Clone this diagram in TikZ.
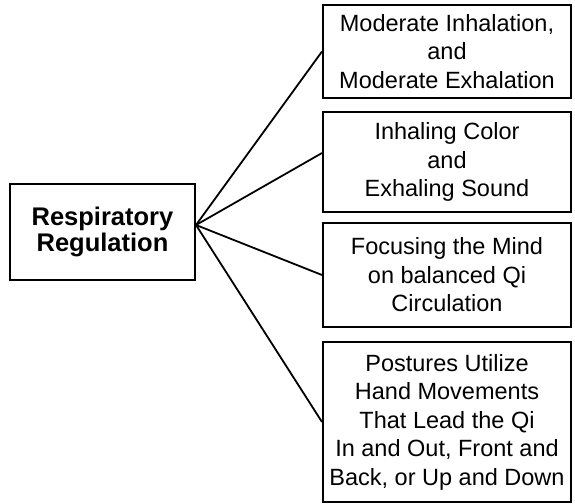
\documentclass[tikz,border=0pt]{standalone}
\usepackage{fontspec}
\setmainfont{Liberation Sans}
\usetikzlibrary{positioning, calc}

\tikzset{
  box/.style={draw, line width=2pt, rectangle, align=center, inner sep=2pt,
    minimum width=248pt, font=\fontsize{23.5}{28.5}\selectfont},
  link/.style={line width=1.8pt},
}

\begin{document}
\begin{tikzpicture}[x=1pt, y=-1pt]
\useasboundingbox (0,0) rectangle (575,503);

% Main topic
\node[box, minimum width=185pt, minimum height=96pt,
  font=\bfseries\fontsize{25.5}{26}\selectfont] (reg) at (102.5, 232) {Respiratory\\Regulation};
\coordinate (hub) at ($(reg.east)+(0,-7)$);

% Sub topics
\foreach \i/\y/\h/\txt in {
  1/51.5/93/{Moderate Inhalation,\\and\\Moderate Exhalation},
  2/162/100/{Inhaling Color\\and\\Exhaling Sound},
  3/275/104/{Focusing the Mind\\on balanced Qi\\Circulation},
  4/422/160/{Postures Utilize\\Hand Movements\\That Lead the Qi\\In and Out, Front and\\Back, or Up and Down}} {
   \node[box, minimum height=\h pt] (sub\i) at (447, \y) {\txt};
}

% Links from the main topic
\draw[link] (hub) -- (sub1.west);
\draw[link] (hub) -- ([yshift=9pt]sub2.west);
\draw[link] (hub) -- (sub3.west);
\draw[link] (hub) -- (sub4.west);
\end{tikzpicture}
\end{document}
